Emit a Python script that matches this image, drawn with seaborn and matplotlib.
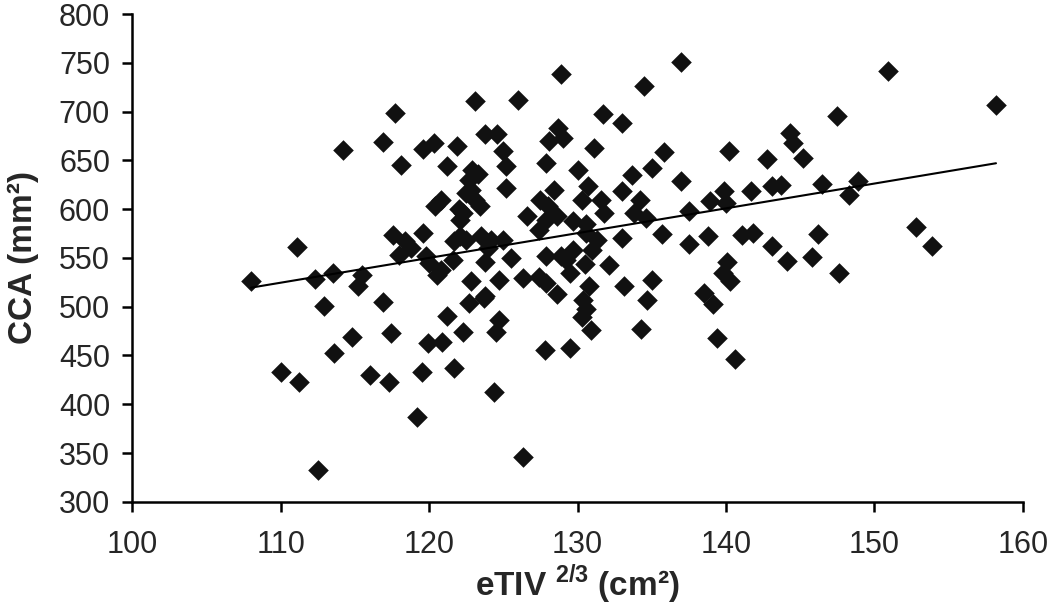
import numpy as np
import pandas as pd
import matplotlib
matplotlib.use('Agg')
import matplotlib.pyplot as plt
import seaborn as sns

# --- data (eTIV^(2/3) in cm2, CCA in mm2) ---
etiv = [108.0, 110.0, 111.2, 111.1, 112.3, 112.5, 112.9, 113.5, 113.6, 114.2,
        114.8, 115.5, 115.2, 116.0, 116.9, 116.9, 117.4, 117.3, 117.7, 118.1,
        117.6, 118.4, 119.6, 118.0, 119.8, 119.5, 119.2, 119.9, 120.9, 119.6,
        120.3, 121.9, 121.2, 122.9, 123.3, 122.7, 120.4, 120.8, 122.5, 123.1,
        123.4, 122.3, 122.1, 122.1, 121.7, 122.5, 121.6, 120.5, 122.8, 122.7,
        123.7, 123.8, 124.7, 123.8, 125.5, 124.2, 125.0, 121.2, 122.3, 124.7,
        124.5, 121.7, 124.4, 126.3, 127.8, 129.5, 123.1, 126.0, 128.9, 123.8,
        124.6, 125.0, 125.2, 125.2, 128.7, 128.1, 129.0, 127.9, 126.6, 127.5,
        128.4, 128.6, 127.4, 127.9, 129.7, 130.6, 130.0, 130.7, 130.3, 130.6,
        131.0, 127.9, 129.2, 129.7, 130.5, 131.3, 126.3, 127.9, 128.6, 130.3,
        130.9, 130.6, 130.8, 137.0, 134.5, 131.7, 133.0, 131.1, 135.8, 140.2,
        144.3, 144.5, 142.8, 145.2, 147.5, 133.7, 135.0, 137.0, 133.0, 134.2,
        133.8, 134.6, 131.6, 131.8, 137.5, 138.9, 139.9, 140.0, 141.7, 143.1,
        143.7, 146.5, 133.0, 135.7, 137.5, 138.8, 141.1, 141.8, 143.1, 146.2,
        144.1, 145.8, 140.1, 132.1, 150.9, 158.2, 148.9, 148.3, 152.8, 153.9,
        147.6, 133.1, 135.0, 134.7, 134.3, 139.8, 140.3, 138.5, 139.1, 139.4,
        140.6, 123.5, 124.0, 122.8, 122.0, 118.8, 120.0, 120.8, 128.0, 129.5,
        128.9, 127.4, 130.4]
cca = [525.9, 432.9, 423.2, 561.2, 528.3, 332.5, 501.0, 534.5, 452.4, 660.4,
       469.4, 532.8, 520.7, 430.0, 668.6, 505.3, 472.9, 423.2, 698.8, 645.0,
       573.8, 567.0, 575.5, 553.3, 551.5, 433.5, 387.3, 462.6, 464.3, 662.0,
       667.5, 664.5, 644.0, 640.6, 636.0, 630.0, 602.9, 609.7, 616.6, 609.7,
       602.9, 596.0, 589.0, 572.0, 567.0, 568.7, 548.2, 532.8, 526.0, 503.7,
       508.8, 546.0, 527.6, 511.0, 549.9, 568.7, 568.7, 490.0, 474.5, 486.5,
       474.5, 437.0, 413.0, 345.6, 455.7, 457.5, 710.7, 711.4, 738.1, 676.5,
       676.5, 659.3, 644.0, 621.8, 683.4, 669.6, 673.0, 647.4, 593.0, 609.7,
       620.0, 592.6, 579.0, 589.2, 588.0, 585.0, 640.6, 623.4, 609.7, 575.5,
       558.4, 551.5, 548.2, 558.4, 544.0, 568.7, 529.4, 524.0, 513.0, 489.0,
       476.0, 497.5, 520.7, 751.1, 726.0, 697.0, 688.5, 662.5, 658.3, 660.0,
       678.2, 668.0, 651.8, 652.6, 695.0, 635.4, 642.3, 628.5, 618.3, 609.7,
       596.0, 591.0, 609.7, 596.0, 597.7, 608.0, 619.0, 606.0, 618.3, 623.4,
       625.1, 626.0, 570.4, 574.5, 564.3, 572.0, 573.8, 575.5, 561.8, 574.5,
       547.3, 551.0, 545.6, 542.5, 741.5, 706.3, 628.5, 614.5, 581.7, 562.5,
       534.5, 520.7, 527.6, 507.0, 477.0, 534.5, 525.9, 514.5, 503.0, 467.5,
       446.5, 572.0, 560.0, 620.0, 600.0, 560.0, 545.0, 538.0, 603.0, 535.0,
       552.0, 530.0, 507.0]

x_ticks = [100, 110, 120, 130, 140, 150, 160]
y_ticks = [300, 350, 400, 450, 500, 550, 600, 650, 700, 750, 800]

df = pd.DataFrame({'eTIV': etiv, 'CCA': cca})

sns.set_style('ticks')
plt.rcParams['font.family'] = ['Liberation Sans', 'DejaVu Sans']
plt.rcParams['mathtext.fontset'] = 'custom'
plt.rcParams['mathtext.rm'] = 'Liberation Sans:bold'
plt.rcParams['mathtext.bf'] = 'Liberation Sans:bold'

fig = plt.figure(figsize=(10.5, 6.09), dpi=100)
ax = fig.add_axes([0.126, 0.176, 0.848, 0.801])

sns.regplot(data=df, x='eTIV', y='CCA', ci=None, marker='D', ax=ax,
            scatter_kws={'s': 110, 'color': '#111111', 'linewidths': 0, 'alpha': 1},
            line_kws={'color': 'black', 'lw': 1.5})

ax.set_xlim(100, 160)
ax.set_ylim(300, 800)
ax.set_xticks(x_ticks)
ax.set_yticks(y_ticks)
ax.tick_params(axis='both', labelsize=22, length=7, width=1.8, color='black')
ax.tick_params(axis='y', pad=9)
ax.tick_params(axis='x', pad=13)
sns.despine(ax=ax)
for sp in ['left', 'bottom']:
    ax.spines[sp].set_linewidth(1.8)
    ax.spines[sp].set_color('black')

ax.set_xlabel(r'eTIV $^{2/3}$ (cm²)', fontsize=24, fontweight='bold', labelpad=2)
ax.set_ylabel('CCA (mm²)', fontsize=24, fontweight='bold', labelpad=14)

fig.savefig('out.png', dpi=100)
